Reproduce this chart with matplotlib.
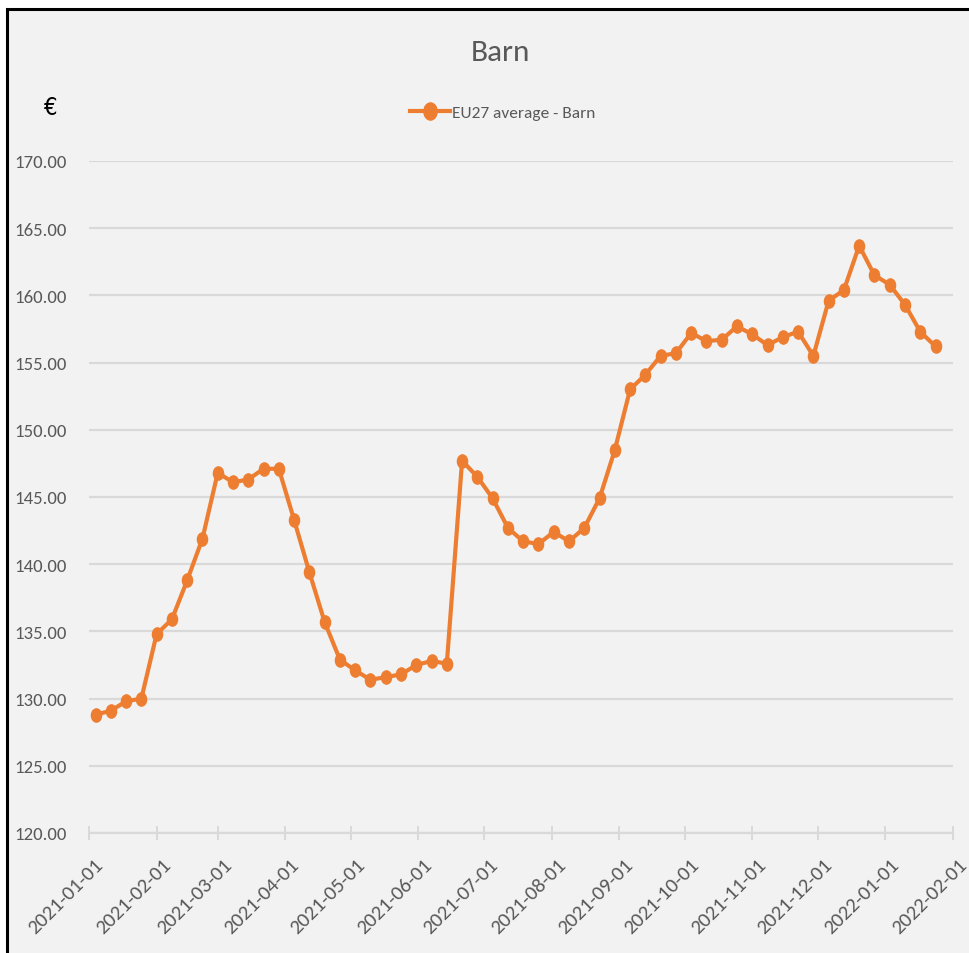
import numpy as np
import pandas as pd
import matplotlib
matplotlib.use('Agg')
import matplotlib.pyplot as plt
import matplotlib.dates as mdates
from matplotlib.patches import Rectangle
from matplotlib.path import Path
from matplotlib.transforms import Affine2D, ScaledTranslation

# weekly prices, EU27 average - Barn
dates = pd.date_range('2021-01-04', periods=56, freq='7D')
prices = [128.8, 129.1, 129.8, 130.0, 134.8, 135.9, 138.8, 141.9, 146.8, 146.1,
          146.3, 147.1, 147.1, 143.3, 139.4, 135.7, 132.9, 132.1, 131.4, 131.6,
          131.8, 132.5, 132.8, 132.6, 147.7, 146.5, 144.9, 142.7, 141.7, 141.5,
          142.4, 141.7, 142.7, 144.9, 148.5, 153.0, 154.1, 155.5, 155.7, 157.2,
          156.6, 156.7, 157.7, 157.1, 156.3, 156.9, 157.3, 155.5, 159.6, 160.4,
          163.7, 161.5, 160.8, 159.3, 157.3, 156.2]
serie = 'EU27 average - Barn'
titulo = 'Barn'
yticks = [120, 125, 130, 135, 140, 145, 150, 155, 160, 165, 170]
xticks = pd.date_range('2021-01-01', '2022-02-01', freq='MS')

plt.rcParams['font.family'] = ['Carlito', 'DejaVu Sans']

naranja = '#ed7d31'
gris = '#595959'
rejilla = '#d9d9d9'

fig = plt.figure(figsize=(9.7, 9.54), dpi=100, facecolor='white')
# chart area with black frame
fig.patches.append(Rectangle((7 / 970, -0.1), 1.2, 1.1 - 9.5 / 954,
                             transform=fig.transFigure, facecolor='#f2f2f2',
                             edgecolor='black', linewidth=2.2, zorder=-10))

ax = fig.add_axes([89 / 970, 120 / 954, 864 / 970, 672 / 954])
ax.set_facecolor('none')

ovalo = Path.unit_circle().transformed(Affine2D().scale(0.77, 1.0))
ax.plot(dates, prices, color=naranja, linewidth=3, marker=ovalo,
        markersize=9.5, label=serie, solid_joinstyle='round', zorder=3)

ax.set_ylim(120, 170)
ax.set_yticks(yticks)
ax.set_yticklabels(['%.2f' % v for v in yticks])
ax.set_xlim(xticks[0], xticks[-1])
ax.set_xticks(xticks)
ax.xaxis.set_major_formatter(mdates.DateFormatter('%Y-%m-%d'))

ax.grid(axis='y', color=rejilla, linewidth=1.6)
ax.set_axisbelow(True)
for lado in ['top', 'right', 'left']:
    ax.spines[lado].set_visible(False)
ax.spines['bottom'].set_color(rejilla)
ax.spines['bottom'].set_linewidth(1.6)

ax.tick_params(axis='y', length=0, pad=16, labelsize=13.5, labelcolor=gris)
ax.tick_params(axis='x', direction='inout', length=9.5, width=1.4, color=rejilla,
               pad=11, labelsize=15, labelcolor=gris)
desplazar = ScaledTranslation(5 / 100, 0, fig.dpi_scale_trans)
for lab in ax.get_xticklabels():
    lab.set_rotation(45)
    lab.set_ha('right')
    lab.set_va('top')
    lab.set_rotation_mode('anchor')
    lab.set_transform(lab.get_transform() + desplazar)

fig.text(500 / 970, 1 - 53 / 954, titulo, ha='center', va='center',
         fontsize=22.5, color=gris)
fig.text(50 / 970, 1 - 108 / 954, '€', ha='center', va='center',
         fontsize=17, color='black', family=['DejaVu Sans'], stretch='condensed')
fig.legend(loc='center', bbox_to_anchor=(503 / 970, 1 - 113 / 954),
           frameon=False, fontsize=12.5, labelcolor=gris, handlelength=2.3,
           handletextpad=0.1, markerscale=1.3)

plt.savefig('out.png', dpi=100, facecolor='white')
